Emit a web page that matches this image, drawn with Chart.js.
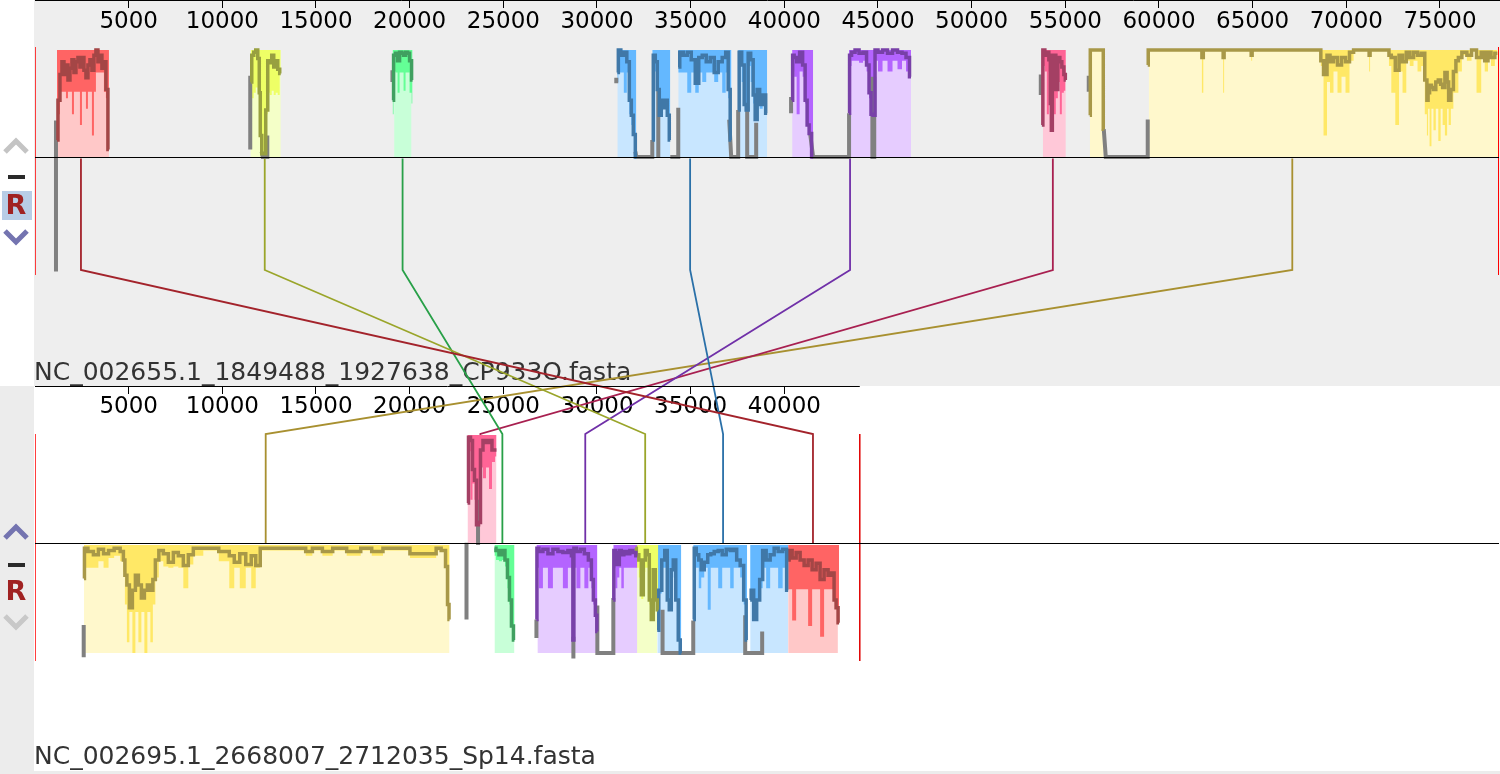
<!DOCTYPE html>
<html><head><meta charset="utf-8">
<script src="https://cdn.jsdelivr.net/npm/chart.js@4.4.1/dist/chart.umd.min.js"></script>
<style>html,body{margin:0;padding:0;background:#fff;}#wrap{position:relative;width:1500px;height:774px;}</style>
</head><body><div id="wrap"><canvas id="c" width="1500" height="774"></canvas></div>
<script>
// ---------------- DATA ----------------
const GENOME_NAMES = ['NC_002655.1_1849488_1927638_CP933O.fasta', 'NC_002695.1_2668007_2712035_Sp14.fasta'];
const GENOME_LENGTHS = [78150, 44028];
const TOP_TICKS = [5000, 10000, 15000, 20000, 25000, 30000, 35000, 40000, 45000, 50000, 55000, 60000, 65000, 70000, 75000];
const BOT_TICKS = [5000, 10000, 15000, 20000, 25000, 30000, 35000, 40000];
const LCB_NAMES = ['red', 'lime', 'green', 'blue', 'purple', 'crimson', 'yellow'];
const LCB_POS_TOP = [2453, 12264, 19622, 34971, 43509, 54334, 67116];
const LCB_POS_BOT = [41529, 32573, 24949, 36730, 29374, 23776, 12315];

// profiles: [position, average similarity %, lower similarity %]; null = gap
const T_RED_SEGS = [[1173, 3946]];
const T_RED_PROF = [[1173,16,16],[1280,53,40],[1386,77,61],[1493,89,61],[1600,77,61],[1706,86,55],[1813,72,61],[1920,83,61],[2026,91,40],[2133,79,61],[2239,89,61],[2346,93,61],[2453,84,30],[2559,93,61],[2666,81,61],[2773,74,45],[2879,86,61],[2986,91,61],[3093,81,20],[3199,95,61],[3306,100,79],[3413,89,79],[3519,95,79],[3626,83,79],[3733,89,61],[3839,63,55],[3946,7,7]];
const T_LIME_SEGS = [[11500, 12150], [12370, 13120]];
const T_LIME_PROF = [[11517,70,60],[11624,95,55],[11730,98,60],[11837,100,65],[11944,92,60],[12000,60,50],[12050,20,15],[12157,3,3],[12264,3,3],[12370,44,40],[12477,90,60],[12584,88,58],[12690,95,62],[12797,84,58],[12904,90,60],[13010,82,58],[13117,78,78]];
const T_GREEN_SEGS = [[19170, 20100]];
const T_GREEN_PROF = [[19088,53,40],[19195,95,80],[19302,97,79],[19408,90,60],[19515,98,79],[19622,97,79],[19728,95,62],[19835,98,79],[19942,97,79],[20048,90,60],[20155,72,50]];
const T_BLUE_SEGS = [[31086, 32050], [32952, 33912], [34338, 37200], [37537, 39084]];
const T_BLUE_PROF = [[31086,79,70],[31192,100,79],[31352,95,79],[31512,98,60],[31672,89,79],[31779,53,40],[31885,39,30],[31992,21,21],[32099,0,0],null,
 [32952,16,16],[33058,95,80],[33165,89,80],[33272,63,55],[33378,39,39],[33485,53,53],[33592,46,46],[33698,53,50],[33805,39,39],[33912,16,16],null,
 [34338,84,79],[34498,98,79],[34711,95,79],[34925,98,60],[35138,91,79],[35352,69,60],[35512,93,79],[35724,95,70],[35938,89,79],[36151,93,79],[36364,79,70],[36577,89,79],[36791,93,60],[36951,98,79],[37057,63,55],[37164,16,16],null,
 [37537,44,44],[37644,98,85],[37804,86,70],[37911,49,49],[38017,44,44],[38124,97,85],[38284,91,70],[38390,58,50],[38497,35,35],[38604,63,55],[38764,49,45],[38924,58,50],[39084,41,41]];
const T_PURPLE_SEGS = [[40417, 41537], [43509, 46762]];
const T_PURPLE_PROF = [[40417,53,50],[40471,95,80],[40577,93,75],[40737,89,40],[40897,98,80],[41057,86,75],[41164,53,50],[41270,30,30],[41377,22,22],[41537,0,0],null,
 [43456,41,41],[43509,95,85],[43669,98,90],[43882,100,90],[44096,97,88],[44309,98,90],[44469,86,80],[44575,60,55],[44682,40,40],[44789,39,39],[44895,100,90],[45108,98,80],[45375,100,90],[45642,97,80],[45908,100,90],[46175,98,82],[46388,97,90],[46602,93,80],[46762,75,75]];
const T_CRIMSON_SEGS = [[53800, 55027]];
const T_CRIMSON_PROF = [[53747,30,30],[53854,100,85],[53960,95,80],[54067,98,40],[54174,91,80],[54227,50,45],[54280,25,25],[54334,95,70],[54440,95,40],[54547,63,55],[54654,93,70],[54760,89,40],[54867,84,60],[54974,77,62],[55027,72,72]];
const T_YELLOW_SEGS = [[56306, 57052], [59452, 78150]];
const T_YELLOW_PROF = [[56306,39,39],[56359,100,100],[57000,100,100],[57052,26,26],null,
 [59399,86,86],[59452,100,100],[62250,100,100],[62331,93,60],[62400,100,100],[63400,100,100],[63451,93,60],[63500,100,100],[64900,100,100],[64944,95,90],[65000,100,100],[68600,100,100],[68677,90,85],[68890,77,20],[69050,95,70],[69210,89,60],[69420,93,80],[69637,86,60],[69850,93,75],[70063,89,60],[70276,98,90],[70500,100,100],[71200,100,100],[71236,95,80],[71300,100,100],[72250,100,100],[72302,95,85],[72500,93,60],[72729,81,30],[72900,95,80],[73102,89,60],[73300,98,90],[73475,93,85],[73700,98,90],[73902,95,80],[74100,97,85],[74275,72,40],[74329,53,20],[74400,60,45],[74489,67,10],[74600,65,45],[74702,63,25],[74850,70,45],[74969,72,15],[75100,68,45],[75182,65,30],[75342,79,20],[75420,70,45],[75502,53,30],[75662,63,45],[75769,80,60],[75929,90,60],[76035,93,80],[76302,98,95],[76569,95,90],[76800,100,100],[77102,93,60],[77300,98,95],[77475,90,80],[77650,98,95],[77795,93,85],[78062,97,95]];

const B_YELLOW_SEGS = [[2613, 22128]];
const B_YELLOW_PROF = [[2613,69,69],[2666,97,79],[2986,94,79],[3250,91,79],[3519,96,85],[3800,92,79],[4052,95,88],[4400,97,90],[4692,94,85],[4745,86,75],[4852,72,45],[4959,63,10],[5119,42,38],[5279,58,0],[5439,72,38],[5599,63,10],[5759,51,38],[5919,58,0],[6078,63,38],[6238,58,10],[6345,68,45],[6505,86,70],[6718,95,85],[6985,92,80],[7252,84,79],[7518,93,80],[7785,90,79],[8051,81,60],[8318,91,82],[8585,97,90],[9384,97,95],[10237,94,85],[10504,90,60],[10771,84,79],[11091,92,60],[11410,82,79],[11677,90,60],[11890,81,79],[12157,97,95],[14183,97,95],[14716,94,90],[14900,97,95],[15783,94,90],[16000,97,95],[17276,94,90],[17500,97,95],[18449,94,90],[18700,97,95],[21328,92,88],[21500,97,95],[21861,95,95],[21968,80,80],[22074,45,45],[22128,31,31]];
const B_PINK_SEGS = [[23088, 24634]];
const B_PINK_PROF = [[23088,37,37],[23194,98,85],[23301,95,40],[23408,68,55],[23514,58,40],[23621,17,17],[23727,19,19],[23834,86,70],[23994,95,60],[24154,93,70],[24314,95,50],[24474,86,75],[24634,86,80]];
const B_GREEN_SEGS = [[24527, 25594]];
const B_GREEN_PROF = [[24527,97,90],[24687,95,86],[24847,91,85],[25007,95,86],[25167,86,80],[25274,70,60],[25380,49,45],[25487,25,25],[25594,12,12]];
const B_PURPLE_SEGS = [[26820, 30019], [30872, 32152]];
const B_PURPLE_PROF = [[26767,31,31],[26820,97,79],[26980,94,60],[27247,96,79],[27513,92,60],[27780,96,79],[28046,94,79],[28313,93,60],[28580,95,79],[28686,90,79],[28740,12,12],[28793,97,79],[29006,94,60],[29219,96,79],[29433,92,60],[29646,86,79],[29753,68,60],[29859,49,45],[29966,35,35],[30019,20,20],null,
 [30872,49,49],[30925,95,79],[31032,93,60],[31139,82,70],[31245,95,79],[31352,91,60],[31512,94,79],[31672,92,79],[31832,95,79],[31992,93,79],[32152,90,79]];
const B_LIME_SEGS = [[32045, 33218]];
const B_LIME_PROF = [[32045,97,79],[32152,91,79],[32312,86,70],[32419,54,50],[32525,86,75],[32632,95,79],[32738,91,79],[32845,49,45],[32952,31,31],[33058,77,65],[33165,49,49],[33272,40,40]];
const B_BLUE_SEGS = [[33218, 34498], [35138, 38017], [38177, 40204]];
const B_BLUE_PROF = [[33218,21,21],[33378,58,55],[33538,86,79],[33698,95,79],[33805,49,49],[33912,40,40],[34018,77,70],[34125,86,79],[34285,49,49],[34391,12,12],[34498,0,0],null,
 [35138,31,31],[35245,97,79],[35352,91,79],[35512,86,60],[35618,77,70],[35831,84,79],[35991,91,40],[36151,92,79],[36364,94,79],[36577,95,60],[36791,91,79],[37004,96,79],[37217,95,60],[37377,96,79],[37537,86,79],[37750,81,70],[37911,49,45],[38017,12,12],null,
 [38177,49,49],[38284,58,55],[38444,31,31],[38604,49,49],[38764,68,60],[38924,95,79],[39137,86,60],[39350,91,79],[39564,97,79],[39777,94,60],[40044,96,79],[40204,58,58]];
const B_RED_SEGS = [[40204, 42860]];
const B_RED_PROF = [[40204,86,59],[40310,95,59],[40524,88,30],[40737,93,59],[40950,86,59],[41164,81,59],[41377,86,25],[41590,77,59],[41803,83,59],[42016,68,15],[42229,77,59],[42443,72,59],[42603,74,59],[42710,49,49],[42816,42,42],[42923,28,28]];

// unaligned (grey) profile pieces: [position, similarity %]; null = gap
const GREY_TOP = [[1120,34],[1120,-107],null,[11490,76],[11490,7],null,[12100,5],[12157,0],[12400,0],[12400,20],null,[19080,81],[19080,70],null,
 [31030,74],[31030,69],null,[32050,5],[32099,0],[32952,0],[32952,16],null,[33272,63],[33272,0],null,[33912,0],[34338,0],[34338,46],null,
 [37057,35],[37164,0],[37537,0],[37537,44],null,[38017,47],[38017,0],[38497,0],[38497,32],null,[40360,56],[40360,41],null,
 [41377,22],[41537,0],[43456,0],[43456,41],null,[44700,75],[44700,0],[44800,0],[44800,75],null,[53690,77],[53690,58],null,
 [56250,76],[56250,61],null,[57052,26],[57159,0],[59399,0],[59399,35]];
const GREY_BOT = [[2600,26],[2600,-4],null,[23034,102],[23034,31],null,[23650,142],[23650,100],null,[26767,31],[26767,14],null,
 [28740,15],[28740,-5],null,[30019,44],[30019,0],[30872,0],[30872,51],null,[33500,40],[33500,0],[35138,0],[35138,30],null,
 [37911,35],[37911,0],[38817,0],[38817,20]];

// ---------------- STYLE / LAYOUT ----------------
const COLORS = {
  red:     {light:'#ffc8c8', medium:'#ff6464', dark:'#a44646', link:'#a3232b'},
  lime:    {light:'#f4ffc8', medium:'#eeff66', dark:'#98a040', link:'#9aa52a'},
  green:   {light:'#c8ffd8', medium:'#64ff96', dark:'#40a060', link:'#28a048'},
  blue:    {light:'#c8e6ff', medium:'#64b8ff', dark:'#4078a8', link:'#2a70a8'},
  purple:  {light:'#e6ccff', medium:'#b464ff', dark:'#7840a8', link:'#7030a8'},
  crimson: {light:'#ffc8d8', medium:'#ff6496', dark:'#a44064', link:'#a82050'},
  yellow:  {light:'#fff8cc', medium:'#ffe866', dark:'#a89848', link:'#a89030'}
};
const TRACK = {
  top:    {top: 50,  base: 157},
  botFwd: {top: 435, base: 543},
  botInv: {top: 545, base: 653}
};
const LEVEL = {topMid: 157.5, linkTop: 270, linkBot: 434, botMid: 543.5, botAxis: 386.5};

function yOf(tr, sim) { return tr.base - sim / 100 * (tr.base - tr.top); }

const BLOCKS = [
  ['red', 'top', T_RED_SEGS, T_RED_PROF], ['lime', 'top', T_LIME_SEGS, T_LIME_PROF], ['green', 'top', T_GREEN_SEGS, T_GREEN_PROF],
  ['blue', 'top', T_BLUE_SEGS, T_BLUE_PROF], ['purple', 'top', T_PURPLE_SEGS, T_PURPLE_PROF], ['crimson', 'top', T_CRIMSON_SEGS, T_CRIMSON_PROF],
  ['yellow', 'top', T_YELLOW_SEGS, T_YELLOW_PROF],
  ['yellow', 'botInv', B_YELLOW_SEGS, B_YELLOW_PROF], ['crimson', 'botFwd', B_PINK_SEGS, B_PINK_PROF], ['green', 'botInv', B_GREEN_SEGS, B_GREEN_PROF],
  ['purple', 'botInv', B_PURPLE_SEGS, B_PURPLE_PROF], ['lime', 'botInv', B_LIME_SEGS, B_LIME_PROF], ['blue', 'botInv', B_BLUE_SEGS, B_BLUE_PROF],
  ['red', 'botInv', B_RED_SEGS, B_RED_PROF]
];

const datasets = [];
const base = {type: 'line', pointRadius: 0, pointHitRadius: 0, spanGaps: false, tension: 0};

function mapProf(prof, tr, idx) {
  let lastX = 0;
  return prof.map(p => {
    if (p === null) return {x: lastX, y: null};
    lastX = p[0];
    return {x: p[0], y: yOf(tr, p[idx])};
  });
}

BLOCKS.forEach(([name, trk, segs, prof]) => {
  const c = COLORS[name], tr = TRACK[trk];
  segs.forEach(s => datasets.push(Object.assign({}, base, {
    data: [{x: s[0], y: tr.top}, {x: s[1], y: tr.top}],
    fill: {value: tr.base}, backgroundColor: c.light, borderWidth: 0, order: 50
  })));
  datasets.push(Object.assign({}, base, {
    data: mapProf(prof, tr, 2), stepped: 'middle',
    fill: {value: tr.top}, backgroundColor: c.medium, borderWidth: 0, order: 40
  }));
  datasets.push(Object.assign({}, base, {
    data: mapProf(prof, tr, 1), stepped: 'middle',
    fill: false, borderColor: c.dark, borderWidth: 3.5, order: 30
  }));
});

[[GREY_TOP, TRACK.top], [GREY_BOT, TRACK.botInv]].forEach(([arr, tr]) => {
  let lastX = 0;
  datasets.push(Object.assign({}, base, {
    data: arr.map(p => { if (p === null) return {x: lastX, y: null}; lastX = p[0]; return {x: p[0], y: yOf(tr, p[1])}; }),
    fill: false, borderColor: '#808080', borderWidth: 4, order: 35
  }));
});

LCB_NAMES.forEach((name, i) => {
  datasets.push(Object.assign({}, base, {
    data: [{x: LCB_POS_TOP[i], y: LEVEL.topMid + 1}, {x: LCB_POS_TOP[i], y: LEVEL.linkTop},
           {x: LCB_POS_BOT[i], y: LEVEL.linkBot}, {x: LCB_POS_BOT[i], y: LEVEL.botMid}],
    fill: false, borderColor: COLORS[name].link, borderWidth: 1.8, order: 60
  }));
});

// reference lines: midlines, bottom ruler line, genome boundaries
const lineDs = (pts, color, w) => Object.assign({}, base, {data: pts, fill: false, borderColor: color, borderWidth: w, order: 5});
datasets.push(lineDs([{x: 0, y: LEVEL.topMid}, {x: GENOME_LENGTHS[0], y: LEVEL.topMid}], '#000', 1));
datasets.push(lineDs([{x: 0, y: LEVEL.botMid}, {x: GENOME_LENGTHS[0], y: LEVEL.botMid}], '#000', 1));
datasets.push(lineDs([{x: 0, y: LEVEL.botAxis}, {x: GENOME_LENGTHS[1], y: LEVEL.botAxis}], '#000', 1));
datasets.push(lineDs([{x: 0, y: 47}, {x: 0, y: 275}], '#ff0000', 1.5));
datasets.push(lineDs([{x: GENOME_LENGTHS[0], y: 47}, {x: GENOME_LENGTHS[0], y: 275}], '#ff0000', 2));
datasets.push(lineDs([{x: 0, y: 434}, {x: 0, y: 661}], '#ff0000', 1.5));
datasets.push(lineDs([{x: GENOME_LENGTHS[1], y: 434}, {x: GENOME_LENGTHS[1], y: 661}], '#e00000', 1.5));

// ---------------- PLUGINS ----------------
const bgPlugin = {
  id: 'bg',
  beforeDraw(chart) {
    const ctx = chart.ctx;
    ctx.save();
    ctx.fillStyle = '#ffffff'; ctx.fillRect(0, 0, 1500, 774);
    ctx.fillStyle = '#eeeeee'; ctx.fillRect(34, 0, 1466, 386);
    ctx.fillStyle = '#ececec'; ctx.fillRect(0, 386, 34, 388); ctx.fillRect(0, 771, 1500, 3);
    ctx.restore();
  },
  beforeDatasetsDraw(chart) {
    const ctx = chart.ctx;
    ctx.save();
    ctx.font = '25px "DejaVu Sans"'; ctx.fillStyle = '#333333'; ctx.textBaseline = 'alphabetic'; ctx.textAlign = 'left';
    ctx.fillText(GENOME_NAMES[0], 34, 380);
    ctx.fillText(GENOME_NAMES[1], 34, 764);
    ctx.restore();
  },
  afterDraw(chart) {
    const ctx = chart.ctx;
    function chev(cy, up, color) {
      ctx.save(); ctx.strokeStyle = color; ctx.lineWidth = 5; ctx.lineJoin = 'miter'; ctx.lineCap = 'butt';
      ctx.beginPath();
      if (up) { ctx.moveTo(5, cy + 7); ctx.lineTo(16, cy - 4); ctx.lineTo(27, cy + 7); }
      else { ctx.moveTo(5, cy - 7); ctx.lineTo(16, cy + 4); ctx.lineTo(27, cy - 7); }
      ctx.stroke(); ctx.restore();
    }
    function rIcon(cy, boxed) {
      ctx.save();
      if (boxed) { ctx.fillStyle = '#b8cde6'; ctx.fillRect(2, cy - 15, 30, 29); }
      ctx.font = 'bold 27px "DejaVu Sans"'; ctx.fillStyle = '#a02222'; ctx.textAlign = 'center'; ctx.textBaseline = 'middle';
      ctx.fillText('R', 16, cy + 1);
      ctx.restore();
    }
    chev(145, true, '#c4c4c4');
    ctx.fillStyle = '#2a2a2a'; ctx.fillRect(8, 175, 17, 4);
    rIcon(206, true);
    chev(238, false, '#7474b0');
    chev(531, true, '#7474b0');
    ctx.fillStyle = '#2a2a2a'; ctx.fillRect(8, 563, 17, 4);
    rIcon(592, false);
    chev(623, false, '#c8c8c8');
  }
};

const tickFont = {family: 'DejaVu Sans', size: 23};
new Chart(document.getElementById('c'), {
  type: 'line',
  data: {datasets},
  options: {
    responsive: false, animation: false, devicePixelRatio: 1,
    layout: {padding: {left: 35, right: 1, top: 0, bottom: 0}},
    plugins: {legend: {display: false}, tooltip: {enabled: false}, title: {display: false}},
    events: [],
    scales: {
      x: {type: 'linear', min: 0, max: GENOME_LENGTHS[0], position: {y: 0},
          grid: {drawOnChartArea: false, drawTicks: true, tickLength: 7, color: '#000'},
          border: {display: true, color: '#000', width: 1},
          afterBuildTicks: s => { s.ticks = TOP_TICKS.map(v => ({value: v})); },
          ticks: {font: tickFont, color: '#000', padding: 1, maxRotation: 0, autoSkip: false, callback: v => String(v)}},
      x2: {type: 'linear', axis: 'x', min: 0, max: GENOME_LENGTHS[0], position: {y: LEVEL.botAxis},
          grid: {drawOnChartArea: false, drawTicks: true, tickLength: 7, color: '#000'},
          border: {display: false},
          afterBuildTicks: s => { s.ticks = BOT_TICKS.map(v => ({value: v})); },
          ticks: {font: tickFont, color: '#000', padding: 0, maxRotation: 0, autoSkip: false, callback: v => String(v)}},
      y: {type: 'linear', min: 0, max: 774, reverse: true, display: false}
    }
  },
  plugins: [bgPlugin]
});
</script></body></html>
